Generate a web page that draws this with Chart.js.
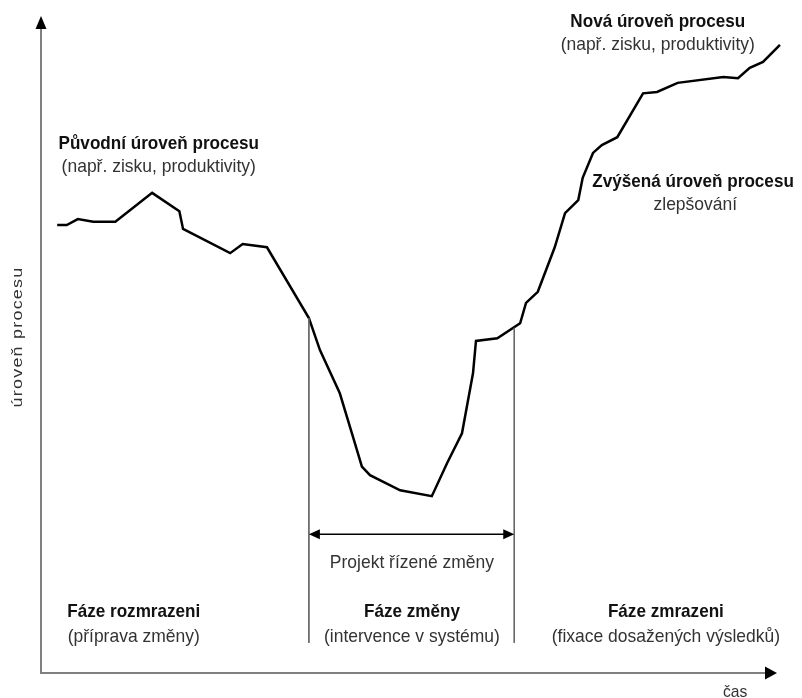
<!DOCTYPE html>
<html lang="cs">
<head>
    <meta charset="UTF-8">
    <title>Úroveň procesu v čase</title>
    <style>
        body {
            margin: 0;
            padding: 0;
            background-color: #ffffff;
        }

        .chart-container {
            position: relative;
            width: 802px;
            height: 698px;
        }
    </style>
</head>
<body>
    <div class="chart-container">
        <canvas id="procesChart"></canvas>
    </div>

    <script src="https://cdn.jsdelivr.net/npm/chart.js"></script>
    <script>
        // Průběh úrovně procesu (čas, úroveň) v poměrných jednotkách 0-100
        const casy = [2.2, 3.5, 5.0, 7.1, 10.1, 15.1, 18.8, 19.3, 25.7, 27.4, 30.7, 36.4, 37.9, 40.6, 42.4, 43.6, 44.7, 48.8, 53.1, 55.2, 57.2, 58.7, 59.1, 62.0, 65.1, 65.9, 67.5, 69.8, 71.2, 73.0, 73.6, 75.0, 76.2, 78.3, 81.8, 83.7, 86.5, 92.7, 94.7, 96.3, 98.1, 100.4];
        const urovne = [68.4, 68.4, 69.3, 68.9, 68.9, 73.3, 70.5, 67.8, 64.1, 65.5, 65.0, 54.2, 49.3, 42.7, 36.0, 31.5, 30.2, 27.9, 27.0, 32.1, 36.6, 45.8, 50.7, 51.1, 53.4, 56.5, 58.2, 65.0, 70.2, 72.2, 75.6, 79.4, 80.6, 81.8, 88.5, 88.7, 90.1, 91.0, 90.8, 92.4, 93.3, 95.9];

        // Hranice fází (začátek a konec projektu řízené změny)
        const hraniceFazi = [36.4, 64.3];
        const hraniceHorni = [54.2, 52.7];
        const hraniceDolni = 4.6;
        const urovenSipky = 21.2;

        // Popisky: [text, x, y, tučně]
        const popisky = [
            ['Původní úroveň procesu', 16.0, 80.8, true],
            ['(např. zisku, produktivity)', 16.0, 77.3, false],
            ['Nová úroveň procesu', 83.8, 99.5, true],
            ['(např. zisku, produktivity)', 83.8, 95.9, false],
            ['Zvýšená úroveň procesu', 88.6, 75.0, true],
            ['zlepšování', 88.9, 71.5, false],
            ['Projekt řízené změny', 50.4, 16.9, false],
            ['Fáze rozmrazeni', 12.6, 9.3, true],
            ['(příprava změny)', 12.6, 5.6, false],
            ['Fáze změny', 50.4, 9.3, true],
            ['(intervence v systému)', 50.4, 5.6, false],
            ['Fáze zmrazeni', 84.9, 9.3, true],
            ['(fixace dosažených výsledků)', 84.9, 5.6, false],
        ];
        const popisekX = 'čas';
        const popisekY = 'úroveň procesu';

        const FONT = '"Liberation Sans", Arial, sans-serif';

        function sipka(ctx, x, y, smer, delka, sirka) {
            // smer: 'up', 'left', 'right'
            ctx.beginPath();
            if (smer === 'up') {
                ctx.moveTo(x, y);
                ctx.lineTo(x - sirka, y + delka);
                ctx.lineTo(x + sirka, y + delka);
            } else if (smer === 'left') {
                ctx.moveTo(x, y);
                ctx.lineTo(x + delka, y - sirka);
                ctx.lineTo(x + delka, y + sirka);
            } else {
                ctx.moveTo(x, y);
                ctx.lineTo(x - delka, y - sirka);
                ctx.lineTo(x - delka, y + sirka);
            }
            ctx.closePath();
            ctx.fill();
        }

        // zúžené písmo (originál používá Arial Narrow)
        function uzkyText(ctx, text, x, y, sx) {
            ctx.save();
            ctx.translate(x, y);
            ctx.scale(sx, 1);
            ctx.fillText(text, 0, 0);
            ctx.restore();
        }

        const osyPlugin = {
            id: 'osy',
            beforeDatasetsDraw(chart) {
                const { ctx, chartArea: a } = chart;
                ctx.save();
                ctx.strokeStyle = '#808080';
                ctx.lineWidth = 2;
                ctx.beginPath();
                ctx.moveTo(a.left, a.top + 10);
                ctx.lineTo(a.left, a.bottom);
                ctx.lineTo(a.right - 10, a.bottom);
                ctx.stroke();
                ctx.fillStyle = '#000000';
                sipka(ctx, a.left, a.top - 2, 'up', 13, 5.5);
                sipka(ctx, a.right, a.bottom, 'right', 12, 6.5);
                ctx.restore();
            },
            afterDatasetsDraw(chart) {
                const { ctx, scales: { x, y } } = chart;
                ctx.save();
                // dvojitá šipka projektu
                const ys = y.getPixelForValue(urovenSipky);
                const x1 = x.getPixelForValue(hraniceFazi[0]);
                const x2 = x.getPixelForValue(hraniceFazi[1]);
                ctx.strokeStyle = '#000000';
                ctx.lineWidth = 1.5;
                ctx.beginPath();
                ctx.moveTo(x1 + 8, ys);
                ctx.lineTo(x2 - 8, ys);
                ctx.stroke();
                ctx.fillStyle = '#000000';
                sipka(ctx, x1, ys, 'left', 11, 5);
                sipka(ctx, x2, ys, 'right', 11, 5);

                // popisky
                ctx.textAlign = 'center';
                ctx.textBaseline = 'middle';
                popisky.forEach(([text, px, py, tucne]) => {
                    ctx.fillStyle = tucne ? '#111111' : '#333333';
                    ctx.font = (tucne ? 'bold ' : '') + '19px ' + FONT;
                    uzkyText(ctx, text, x.getPixelForValue(px), y.getPixelForValue(py), tucne ? 0.9 : 0.92);
                });
                ctx.fillStyle = '#333333';
                ctx.font = '17px ' + FONT;
                uzkyText(ctx, popisekX, x.getPixelForValue(94.3), chart.chartArea.bottom + 19, 0.92);

                ctx.save();
                ctx.translate(18, y.getPixelForValue(51.3));
                ctx.rotate(-Math.PI / 2);
                ctx.scale(1.2, 1);
                ctx.font = '15px ' + FONT;
                ctx.letterSpacing = '1px';
                ctx.fillText(popisekY, 0, 0);
                ctx.restore();
                ctx.restore();
            }
        };

        const bodyKrivky = casy.map((c, i) => ({ x: c, y: urovne[i] }));
        const datasetyHranic = hraniceFazi.map((h, i) => ({
            data: [{ x: h, y: hraniceHorni[i] }, { x: h, y: hraniceDolni }],
            borderColor: '#666666',
            borderWidth: 1,
            pointRadius: 0,
            showLine: true,
        }));

        const ctx = document.getElementById('procesChart').getContext('2d');
        const procesChart = new Chart(ctx, {
            type: 'scatter',
            data: {
                datasets: [
                    ...datasetyHranic,
                    {
                        label: 'Úroveň procesu',
                        data: bodyKrivky,
                        borderColor: '#000000',
                        borderWidth: 2.5,
                        pointRadius: 0,
                        showLine: true,
                        tension: 0,
                        clip: false,
                    }
                ]
            },
            options: {
                responsive: true,
                maintainAspectRatio: false,
                animation: false,
                layout: {
                    padding: { left: 41, right: 25, top: 18, bottom: 25 }
                },
                plugins: {
                    legend: { display: false },
                    tooltip: { enabled: false },
                },
                scales: {
                    x: { type: 'linear', min: 0, max: 100, display: false },
                    y: { type: 'linear', min: 0, max: 100, display: false },
                }
            },
            plugins: [osyPlugin]
        });
    </script>
</body>
</html>
